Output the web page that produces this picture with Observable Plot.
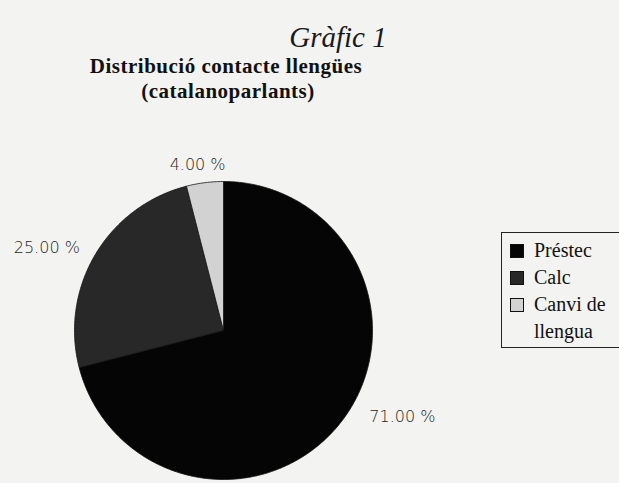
<!DOCTYPE html>
<html>
<head>
<meta charset="utf-8">
<script src="https://cdn.jsdelivr.net/npm/d3@7"></script>
<script src="https://cdn.jsdelivr.net/npm/@observablehq/plot@0.6"></script>
<style>
  html, body { margin: 0; padding: 0; background: #f3f3f1; }
  #wrap { position: relative; width: 619px; height: 483px; overflow: hidden; background: #f3f3f1; }
  #chart { position: absolute; left: 0; top: 0; }
  .t { position: absolute; font-family: "Liberation Serif", "DejaVu Serif", serif; color: #111; white-space: nowrap; }
  #title { left: 338px; top: 21px; transform: translateX(-50%); font-style: italic; font-size: 29px; color: #1a1a1a; }
  #sub1 { left: 226px; top: 54px; transform: translateX(-50%); font-weight: bold; font-size: 21px; letter-spacing: 0.5px; }
  #sub2 { left: 228px; top: 79px; transform: translateX(-50%); font-weight: bold; font-size: 21px; letter-spacing: 0.5px; }
  #legend { position: absolute; left: 501px; top: 232px; width: 130px; height: 116px; border: 1.5px solid #222; box-sizing: border-box;
            font-family: "Liberation Serif", "DejaVu Serif", serif; font-size: 20px; color: #111; }
  .item { position: absolute; left: 8px; display: flex; align-items: flex-start; line-height: 27px; }
  .sw { width: 14px; height: 14px; box-sizing: border-box; border: 1px solid #111; margin-top: 7px; margin-right: 10px; flex: none; }
</style>
</head>
<body>
<div id="wrap">
  <div id="chart"></div>
  <div class="t" id="title">Gràfic 1</div>
  <div class="t" id="sub1">Distribució contacte llengües</div>
  <div class="t" id="sub2">(catalanoparlants)</div>
  <div id="legend"></div>
</div>
<script>
const categories = ["Préstec", "Calc", "Canvi de llengua"];
const legendLines = [["Préstec"], ["Calc"], ["Canvi de", "llengua"]];
const values = [71, 25, 4];
const valueLabels = ["71.00 %", "25.00 %", "4.00 %"];
const colors = ["#050505", "#282828", "#d2d2d2"];

const W = 619, H = 483, cx = 223, cy = 330, R = 149;

const arcs = d3.pie().sort(null).startAngle(0).endAngle(2 * Math.PI)(values);

const pts = [];
arcs.forEach((a, i) => {
  const n = Math.max(4, Math.ceil((a.endAngle - a.startAngle) / 0.01));
  pts.push({cat: categories[i], x: 0, y: 0});
  for (let k = 0; k <= n; k++) {
    const t = a.startAngle + (a.endAngle - a.startAngle) * k / n;
    pts.push({cat: categories[i], x: Math.sin(t), y: Math.cos(t)});
  }
  pts.push({cat: categories[i], x: 0, y: 0});
});

const rl = 1.12;
const labels = arcs.map((a, i) => {
  const m = (a.startAngle + a.endAngle) / 2;
  const s = Math.sin(m);
  return {
    text: valueLabels[i],
    x: s * rl, y: Math.cos(m) * rl,
    anchor: Math.abs(s) < 0.3 ? "middle" : (s > 0 ? "start" : "end")
  };
});

const textStyle = {fontFamily: "'DejaVu Sans', sans-serif", fontSize: 16, fill: "#1e1e1e", fontWeight: 300};

const plot = Plot.plot({
  width: W, height: H, margin: 0,
  style: {background: "transparent"},
  x: {domain: [-cx / R, (W - cx) / R], axis: null},
  y: {domain: [-(H - cy) / R, cy / R], axis: null},
  color: {domain: categories, range: colors},
  marks: [
    Plot.line(pts, {x: "x", y: "y", z: "cat", fill: "cat", stroke: "#111", strokeWidth: 0.8, curve: "linear"}),
    Plot.text(labels.filter(d => d.anchor === "middle"), {x: "x", y: "y", text: "text", textAnchor: "middle", dx: -5, ...textStyle}),
    Plot.text(labels.filter(d => d.anchor === "end"), {x: "x", y: "y", text: "text", textAnchor: "end", dy: 2, ...textStyle}),
    Plot.text(labels.filter(d => d.anchor === "start"), {x: "x", y: "y", text: "text", textAnchor: "start", dx: 14, dy: -16, ...textStyle})
  ]
});
document.getElementById("chart").appendChild(plot);

const lg = document.getElementById("legend");
let row = 0;
categories.forEach((c, i) => {
  const it = document.createElement("div");
  it.className = "item";
  it.style.top = (4 + row * 27) + "px";
  const sw = document.createElement("div");
  sw.className = "sw";
  sw.style.background = colors[i];
  const tx = document.createElement("div");
  tx.innerHTML = legendLines[i].join("<br>");
  it.appendChild(sw); it.appendChild(tx);
  lg.appendChild(it);
  row += legendLines[i].length;
});
</script>
</body>
</html>
